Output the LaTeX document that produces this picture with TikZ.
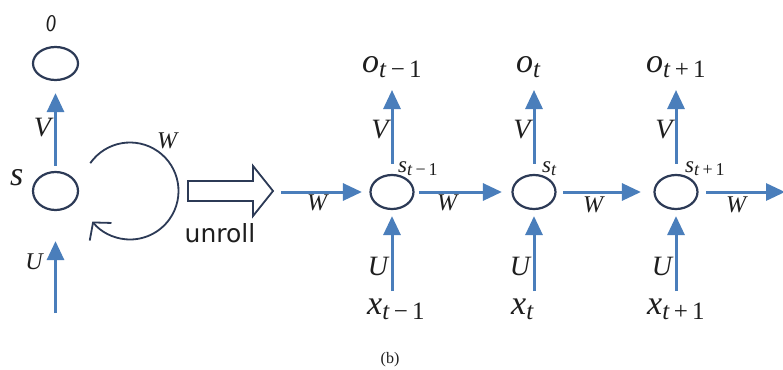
\RequirePackage{fix-cm}
\documentclass[tikz,border=0pt]{standalone}
\usepackage{fontspec}
\setmainfont{Liberation Serif}
\newfontfamily\unrollfont{DejaVu Sans}
\usetikzlibrary{arrows.meta,shapes.geometric}
\definecolor{arrblue}{RGB}{74,126,187}
\definecolor{ringnavy}{RGB}{44,58,86}
\definecolor{labelink}{RGB}{30,30,30}
\newcommand{\fsz}[1]{\fontsize{#1}{#1}\selectfont}
% big label: letter at 34pt, subscript at 25pt
\newcommand{\labbig}[2]{\textit{#1}\raisebox{-5pt}{\fsz{25}#2}}
% small label: letter at 23pt, subscript at 18pt
\newcommand{\labsmall}[2]{\textit{#1}\raisebox{-3pt}{\fsz{18}#2}}
\begin{document}
\begin{tikzpicture}[x=1pt,y=-1pt,
  bluearrow/.style={draw=arrblue, line width=3pt, -{Triangle[length=19pt,width=17pt]}},
  cell/.style={draw=ringnavy, line width=2.2pt, ellipse, minimum width=43pt, minimum height=34pt, inner sep=0pt},
  biglbl/.style={inner sep=0pt, text=labelink, font=\fsz{34}},
  midlbl/.style={inner sep=0pt, text=labelink, font=\fsz{28}\itshape},
  wlbl/.style={inner sep=0pt, text=labelink, font=\fsz{24}\itshape},
  slbl/.style={inner sep=0pt, text=labelink, font=\fsz{23}, anchor=base west},
]
\useasboundingbox (0,0) rectangle (783,369);
\fill[white] (0,0) rectangle (783,369);

% ---- folded network (left) ----
\node[cell, minimum width=45pt, minimum height=33pt] (o0) at (55.5,63.5) {};
\node[cell, minimum width=45pt, minimum height=38pt] (s0) at (55.5,191) {};
\draw[bluearrow, shorten <=5pt, shorten >=12pt] (s0) -- (o0);
\coordinate (in0) at (55.5,313);
\draw[bluearrow, shorten >=30pt] (in0) -- (s0);
\coordinate (loopc) at (130,191);
\draw[ringnavy, line width=1.8pt, -{Straight Barb[length=12pt,width=28pt]}]
  ([shift={(-145:48.5)}]loopc) arc[start angle=-145, end angle=141, radius=48.5];

\node[biglbl, anchor=base west] (olbl) at (46,32) {\scalebox{0.6}[1]{\textit{o}}};
\node[biglbl, anchor=base west] (slbl0) at (10,185) {\textit{s}};
\node[midlbl] (v0) at (42.5,127.5) {V};
\node[wlbl] (w0) at (167,141) {W};
\node[wlbl] (u0) at (34,262) {U};

% ---- unroll block arrow ----
\draw[ringnavy, line width=1.8pt, line join=miter]
  (188,181) -- (253,181) -- (253,166) -- (273,191) -- (253,216) -- (253,201) -- (188,201) -- cycle;
\node[font=\unrollfont\fsz{25}, anchor=base, inner sep=0pt, text=labelink] (unroll) at (220,242) {unroll};

% ---- unrolled network (right) ----
\foreach \i/\x in {1/392,2/534,3/676}{
  \node[cell] (s\i) at (\x,192) {};
  \coordinate (in\i) at (\x,291);
  \coordinate (out\i) at (\x,90);
  \draw[bluearrow, shorten >=6pt] (in\i) -- (s\i);
  \draw[bluearrow, shorten <=10pt] (s\i) -- (out\i);
  \node[midlbl] (v\i) at (\x-12,130) {V};
  \node[midlbl] (u\i) at (\x-14,266) {U};
}
\node[biglbl, anchor=base west] (o1) at (362,72) {\labbig{o}{\textit{t}\,−\,1}};
\node[biglbl, anchor=base west] (o2) at (516,72) {\labbig{o}{\textit{t}}};
\node[biglbl, anchor=base west] (o3) at (646,72) {\labbig{o}{\textit{t}\,+\,1}};
\node[biglbl, anchor=base west] (x1) at (367,314) {\labbig{x}{\textit{t}\,−\,1}};
\node[biglbl, anchor=base west] (x2) at (511,314) {\labbig{x}{\textit{t}}};
\node[biglbl, anchor=base west] (x3) at (647,314) {\labbig{x}{\textit{t}\,+\,1}};
\node[slbl] (sl1) at (398,172) {\labsmall{s}{\textit{t}\,−\,1}};
\node[slbl] (sl2) at (542,172) {\labsmall{s}{\textit{t}}};
\node[slbl] (sl3) at (685,172) {\labsmall{s}{\textit{t}\,+\,1}};

\coordinate (win) at (281,192);
\coordinate (wout) at (785,192);
\draw[bluearrow, shorten >=7.5pt] (win) -- (s1);
\draw[bluearrow, shorten <=4.5pt, shorten >=9.5pt] (s1) -- (s2);
\draw[bluearrow, shorten <=6.5pt, shorten >=12.5pt] (s2) -- (s3);
\draw[bluearrow, shorten <=7.5pt] (s3) -- (wout);
\node[wlbl] (w1) at (317,203) {W};
\node[wlbl] (w2) at (447,203) {W};
\node[wlbl] (w3) at (593,205) {W};
\node[wlbl] (w4) at (736,205) {W};

\node[font=\fsz{16}, anchor=north, inner sep=0pt, text=labelink] (cap) at (390,352) {(b)};
\end{tikzpicture}
\end{document}
